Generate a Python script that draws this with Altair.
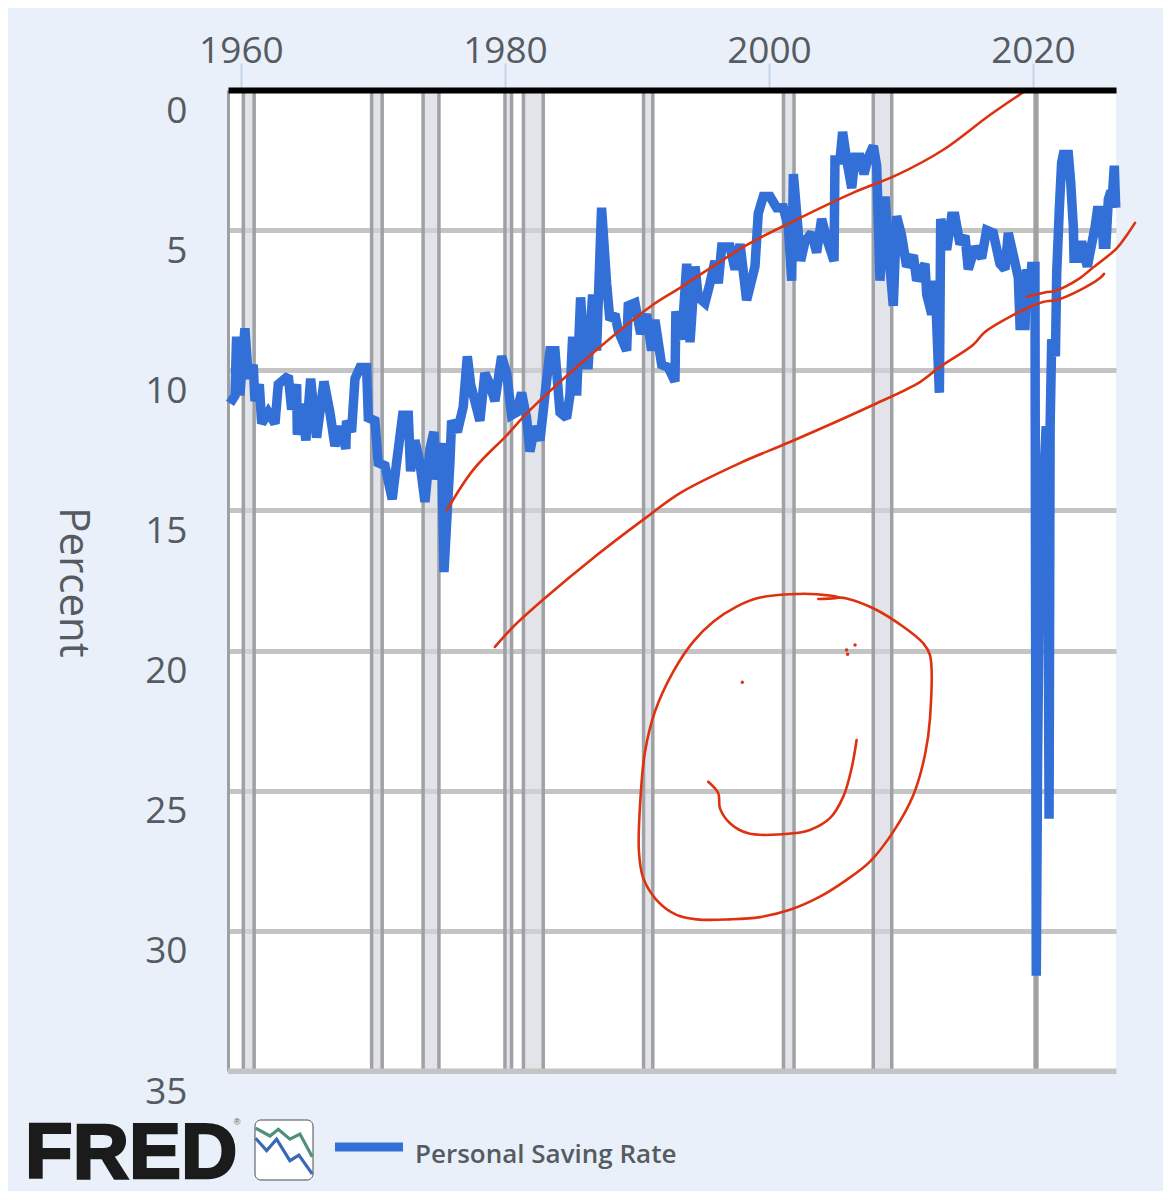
import altair as alt
import pandas as pd

# Personal saving rate
saving_year = [1959.17,1959.55,1959.67,1959.92,1960.30,1960.56,1960.93,1961.06,1961.39,1961.57,1962.07,1962.58,1962.83,1963.59,1963.84,1964.22,1964.27,1964.60,1964.92,1965.28,1965.73,1966.29,1966.74,1967.12,1967.5,1967.95,1968.0,1968.38,1968.64,1969.02,1969.52,1969.65,1970.15,1970.4,1970.91,1971.46,1971.79,1972.25,1972.68,1972.85,1973.18,1973.56,1973.94,1974.32,1974.62,1974.82,1975.2,1975.38,1975.83,1975.96,1976.39,1976.84,1977.15,1977.4,1978.1,1978.48,1978.86,1979.24,1979.75,1980.13,1980.5,1980.88,1981.26,1981.64,1981.89,1982.27,1982.65,1983.03,1983.41,1983.79,1984.17,1984.67,1984.92,1985.13,1985.43,1985.73,1986.06,1986.31,1986.64,1986.94,1987.32,1987.7,1987.95,1988.33,1988.59,1989.22,1989.34,1989.85,1990.28,1990.73,1991.11,1991.36,1991.87,1992.37,1992.88,1992.95,1993.39,1993.77,1994.02,1994.4,1994.65,1995.15,1995.53,1995.91,1996.16,1996.42,1997.05,1997.43,1997.81,1998.31,1998.94,1999.19,1999.57,2000.08,2000.58,2001.09,2001.47,2001.72,2001.85,2002.1,2002.4,2002.73,2003.23,2003.61,2003.99,2004.37,2004.93,2005.0,2005.38,2005.58,2005.89,2006.27,2006.52,2006.9,2007.2,2007.53,2007.91,2008.16,2008.41,2008.79,2009.04,2009.42,2009.67,2010.05,2010.43,2010.94,2011.19,2011.82,2011.95,2012.33,2012.58,2012.91,2013.01,2013.46,2013.84,2014.09,2014.47,2014.85,2015.1,2015.61,2016.11,2016.49,2016.99,2017.5,2017.88,2018.13,2018.51,2018.89,2019.02,2019.4,2019.52,2019.78,2019.9,2020.15,2020.25,2020.35,2020.45,2020.6,2020.75,2020.9,2021.0,2021.05,2021.12,2021.22,2021.3,2021.42,2021.7,2021.8,2022.0,2022.17,2022.3,2022.68,2022.86,2023.06,2023.11,2023.44,2023.69,2023.94,2024.12,2024.32,2024.7,2024.88,2025.2,2025.33,2025.53,2025.71,2025.91,2025.96,2026.16,2026.27]
saving_rate = [11.18,10.9,8.8,10.9,8.5,10.3,9.8,11.1,10.5,11.9,11.5,11.9,10.5,10.2,11.4,10.5,12.3,11.2,12.5,10.3,12.4,10.4,11.5,12.7,12.0,12.8,11.8,12.2,10.3,9.9,9.9,11.7,11.8,13.3,13.4,14.6,13.3,11.6,11.6,13.6,12.5,13.3,14.7,12.8,12.2,13.9,12.6,17.2,13.3,11.8,12.2,11.3,9.5,10.5,11.8,10.1,10.5,11.1,9.5,10.1,11.6,11.5,10.8,11.7,12.9,12.0,12.5,10.9,9.3,9.3,11.5,11.7,10.9,8.8,10.9,7.4,9.8,9.8,7.3,9.3,4.2,6.9,8.2,8.0,8.6,9.3,7.7,7.6,8.7,8.0,9.3,8.2,9.8,9.9,10.4,7.9,8.9,6.2,9.0,6.3,7.4,7.6,6.9,6.1,6.9,5.6,5.6,6.4,5.5,7.5,6.3,4.4,3.8,3.8,4.2,4.2,4.9,6.8,3.0,4.4,6.1,5.4,5.1,5.8,4.6,5.3,6.1,2.5,2.5,1.5,2.5,3.5,2.4,2.4,3.0,2.4,2.0,2.7,6.8,3.8,5.6,7.7,4.5,5.2,6.3,5.9,6.8,6.2,7.3,8.0,6.8,10.8,4.6,5.7,4.5,4.5,5.5,5.2,6.4,5.6,6.0,5.0,5.1,6.2,6.4,5.1,5.9,6.7,8.4,8.4,6.4,7.0,6.3,6.3,31.6,24.0,19.0,18.0,14.5,13.0,12.0,19.3,14.0,26.0,12.0,8.9,9.5,6.5,4.2,2.6,2.3,2.3,3.3,4.9,6.0,6.0,5.4,6.0,6.3,5.8,4.9,4.3,4.3,5.5,5.5,3.9,3.6,4.2,2.7,4.2]

# Recession bands
band_start = [1960.18,1969.9,1973.8,1980.0,1981.4,1990.5,2001.1,2007.9,2020.16]
band_end = [1961.0,1970.7,1975.0,1980.5,1982.9,1991.2,2001.9,2009.3,2020.3]

# Hand-drawn red strokes
upper_year = [1975.61,1977.58,1980.15,1981.89,1986.67,1990.98,1993.26,1998.33,2001.59,2006.36,2009.7,2013.18,2016.74,2019.39]
upper_rate = [14.98,13.56,12.31,11.42,9.38,7.74,7.06,5.53,4.74,3.67,3.03,2.14,0.89,0.04]
lower_year = [1979.24,1980.61,1982.88,1986.97,1990.76,1993.26,1997.8,2001.59,2007.88,2011.44,2012.95,2015.45,2016.36,2018.48,2019.77,2020.76,2021.82,2023.56,2025.08,2025.38]
lower_rate = [19.87,19.16,18.19,16.59,15.23,14.38,13.31,12.56,11.24,10.42,9.88,9.10,8.63,8.03,7.74,7.56,7.49,7.14,6.71,6.56]
short_year = [2019.55,2021.06,2021.67,2023.56,2024.32,2026.36,2027.12,2027.73]
short_rate = [7.38,7.21,7.17,6.71,6.42,5.64,5.17,4.74]
circle_year = [2003.74,2005.38,2003.61,2001.59,1999.32,1997.55,1995.78,1994.27,1992.75,1991.36,1990.61,1990.30,1990.15,1990.48,1991.49,1993.0,1994.52,1997.05,1999.32,2001.59,2003.86,2005.88,2007.65,2009.42,2010.94,2011.82,2012.2,2012.2,2011.69,2010.18,2007.9,2005.88,2005.38]
circle_rate = [18.16,18.11,17.99,17.99,18.11,18.43,18.97,19.68,20.75,22.18,23.61,25.03,27.17,28.12,28.90,29.43,29.59,29.59,29.51,29.25,28.78,28.18,27.53,26.46,25.15,23.72,22.42,20.16,19.74,19.15,18.49,18.14,18.11]
smile_year = [1995.4,1996.16,1996.29,1997.05,1998.43,2001.84,2003.11,2004.62,2005.63,2006.26,2006.64]
smile_rate = [24.68,25.09,25.63,26.16,26.52,26.52,26.40,25.98,25.21,24.20,23.19]
dot_year = [1997.98,2005.88,2005.96,2006.52]
dot_rate = [21.13,19.98,20.13,19.80]

# FRED icon sparklines, on the same scales as the chart
icon_green_year = [1961.11,1962.2,1962.83,1963.71,1964.47,1965.4]
icon_green_rate = [37.04,37.32,37.08,37.43,37.25,38.06]
icon_blue_year = [1961.11,1961.95,1962.7,1963.71,1964.39,1965.4]
icon_blue_rate = [37.40,37.84,37.43,38.2,38.0,38.67]

x_ticks = [1960, 1980, 2000, 2020]
y_ticks = [0, 5, 10, 15, 20, 25, 30, 35]

BG = "#e9f0f9"
BLUE = "#3270d8"
RED = "#dd3210"
TEXT = "#565b62"
FONT = "Open Sans"

x_scale = alt.Scale(domain=[1959.02, 2026.29], nice=False, zero=False)
y_scale = alt.Scale(domain=[0, 35], reverse=True, nice=False, zero=False)

x_axis = alt.Axis(
    orient="top", values=x_ticks, format="d", grid=False, labelFontSize=37,
    labelFont=FONT, labelColor=TEXT, labelPadding=-7, labelFlush=False,
    tickColor="#c6d4e8", tickSize=27, tickWidth=2, domainColor="#000000",
    domainWidth=6, labelOverlap=False, zindex=1, title=None,
)
y_axis = alt.Axis(
    values=y_ticks, grid=True, gridColor="#c4c4c4", gridWidth=5, labelFontSize=37,
    labelFont=FONT, labelColor=TEXT, labelPadding=41, labelOffset=21,
    labelOverlap=False, ticks=False, domainColor="#a0a0a0", domainWidth=3,
    title="Percent", titleFont=FONT, titleFontSize=42, titleFontWeight="normal",
    titleColor=TEXT, titleAngle=90, titleX=-156, titleY=492, titleAlign="center",
    titleBaseline="middle",
)

X = alt.X("year:Q", scale=x_scale, axis=x_axis)
Y = alt.Y("rate:Q", scale=y_scale, axis=y_axis)

def frame(years, rates):
    return pd.DataFrame({"year": years, "rate": rates, "i": range(len(years))})

bands = pd.DataFrame({"year": band_start, "end": band_end})
edges = pd.DataFrame({"year": band_start + band_end})
one = alt.Data(values=[{"a": 1}])

band = alt.Chart(bands).mark_rect(color="#d3d6dd", opacity=0.65).encode(x=X, x2="end:Q")
edge = alt.Chart(edges).mark_rule(color="#9fa1a5", strokeWidth=3.5).encode(x=X)
floor = alt.Chart(pd.DataFrame({"rate": [35]})).mark_rule(
    color="#c4c4c4", strokeWidth=5
).encode(y=Y)

saving = alt.Chart(frame(saving_year, saving_rate)).mark_line(
    color=BLUE, strokeWidth=9.5, strokeJoin="miter", strokeCap="butt", strokeMiterLimit=2
).encode(x=X, y=Y, order="i:Q")

def stroke(years, rates):
    return alt.Chart(frame(years, rates)).mark_line(
        color=RED, strokeWidth=2.6, strokeCap="round", strokeJoin="round", clip=False,
        interpolate="catmull-rom",
    ).encode(x=X, y=Y, order="i:Q")

dots = alt.Chart(frame(dot_year, dot_rate)).mark_point(
    filled=True, color=RED, size=12, opacity=1
).encode(x=X, y=Y)

legend_line = alt.Chart(one).mark_rule(color=BLUE, strokeWidth=9).encode(
    x=alt.value(107), x2=alt.value(175), y=alt.value(1057)
)
legend_text = alt.Chart(one).mark_text(
    font=FONT, fontSize=26, fontWeight=600, color=TEXT, align="left", baseline="middle"
).encode(x=alt.value(187), y=alt.value(1065), text=alt.value("Personal Saving Rate"))

logo = alt.Chart(one).mark_text(
    font="Liberation Sans", fontSize=78, fontWeight="bold", color="#1b1b1b",
    stroke="#1b1b1b", strokeWidth=2.5, align="left", baseline="alphabetic"
).encode(x=alt.value(-203), y=alt.value(1088), text=alt.value("FRED"))
reg = alt.Chart(one).mark_text(
    font="Liberation Sans", fontSize=9, color="#555555", align="center", baseline="middle"
).encode(x=alt.value(9), y=alt.value(1032), text=alt.value("®"))

icon_box = alt.Chart(one).mark_rect(
    fill="white", stroke="#4a4a4a", strokeWidth=1, cornerRadius=6
).encode(x=alt.value(27), x2=alt.value(85), y=alt.value(1030), y2=alt.value(1090))

def spark(years, rates, colour):
    return alt.Chart(frame(years, rates)).mark_line(
        color=colour, strokeWidth=3.2, clip=False
    ).encode(x=X, y=Y, order="i:Q")

chart = alt.layer(
    band, edge, floor, saving,
    stroke(upper_year, upper_rate), stroke(lower_year, lower_rate),
    stroke(short_year, short_rate), stroke(circle_year, circle_rate),
    stroke(smile_year, smile_rate), dots,
    legend_line, legend_text, logo, reg, icon_box,
    spark(icon_green_year, icon_green_rate, "#4f8f7f"),
    spark(icon_blue_year, icon_blue_rate, "#3a67b8"),
).properties(
    width=888, height=981,
    background=BG,
    padding={"left": 220, "top": 82, "right": 47, "bottom": 120},
    autosize=alt.AutoSizeParams(type="none"),
).configure_view(fill="white", stroke=None)

chart.save("out.html", embed_options={"renderer": "svg", "actions": False})
